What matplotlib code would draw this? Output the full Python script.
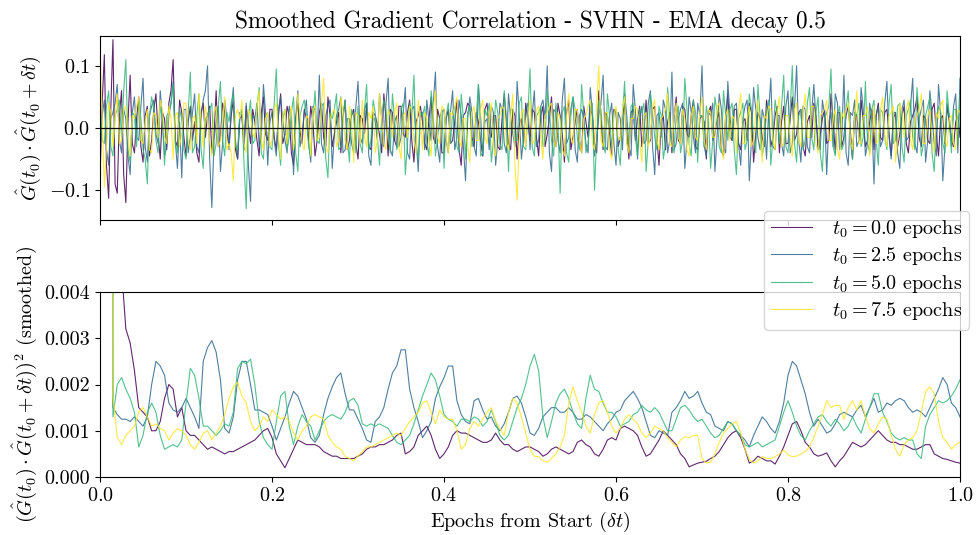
import numpy as np
import matplotlib
matplotlib.use('Agg')
import matplotlib.pyplot as plt

plt.rcParams['font.family'] = 'serif'
plt.rcParams['font.serif'] = ['cmr10', 'DejaVu Serif']
plt.rcParams['mathtext.fontset'] = 'cm'
plt.rcParams['axes.formatter.use_mathtext'] = True
plt.rcParams['axes.unicode_minus'] = True

nan = float('nan')

labels = ['$t_0 = 0.0$ epochs', '$t_0 = 2.5$ epochs', '$t_0 = 5.0$ epochs', '$t_0 = 7.5$ epochs']
colors = ['#440154', '#31688e', '#35b779', '#fde725']

# top panel: raw correlation, units of 1e-3, evenly spaced over 0..1 epochs
corr_t0_00 = [
    -80, 40, 118, -60, -113, 30, 142, -90, -105, 20, 60, -75, -120, 10, 85, -25, -40, 15, 50, -30,
    -55, 20, 35, -45, -20, 30, 55, -10, -50, 25, 15, -35, 40, 60, 110, -20, -30, 45, 25, -15,
    -45, 10, 35, -20, 10, -40, -55, 25, 40, -15, 20, 35, -40, -10, 60, -30, -15, 40, 25, -5,
    -30, 20, 45, -35, -50, 15, 20, -25, 35, 5, -25, 30, 10, -20, -45, 25, 50, -10, -20, 30,
    30, -15, -35, 20, 55, -25, -10, 35, 20, -40, -60, 15, 40, -5, -25, 30, 15, -20, 35, 10,
    -45, -20, 25, 40, -15, -30, 50, 20, -30, -10, 10, 25, -40, 15, 45, -35, -20, 20, 30, -25,
    -50, 20, 15, -10, 40, -30, -35, 25, 20, 5, -10, -40, 55, 15, -45, 30, 25, -20, -30, 35,
    35, -10, -15, 25, 45, -20, -55, 10, 20, 35, 10, -25, -35, 15, 50, -15, -25, 30, 15, -40,
    -40, 15, 30, -25, -20, 10, 45, -35, -60, 20, 25, 40, 35, -15, -30, 25, 10, -20, -45, 30,
    40, -5, -15, 20, 20, -30, -35, 15, 55, 10, -25, -35, 30, 20, -50, 5, 15, -25, 40, 10,
    -20, 30, 25, -15, -45, 20, 35, -30, -10, 15, 50, -20, -30, 40, 20, -10, -55, 25, 45, -35,
    -15, 10, 30, -20, -40, 35, 10, -15, 35, 20, -25, -40, 60, 15, -35, 25, 20, -10, -45, 30,
    25, -30, -15, 20, 40, -10, -50, 25, 30, -20, 15, 35, -30, -5, 45, -25, -20, 30, 35, -15,
    -60, 10, 20, -35, 10, 25, -40, 15, 50, -20, -25, 35, 30, -10, -15, 20, 45, -30, -35, 15,
    20, 10, -50, 25, 35, -20, -10, 15, 25, -35, -45, 20, 55, -15, -20, 30, 30, -25, -35, 10,
    15, -20, 40, 25, -55, -10, 25, 15, -15, -30, 45, 20, -30, -15, 20, 35, -40, 10, 35, -25,
    -25, 15, 50, -20, -10, 25, 30, -30, -45, 10, 20, -15, 40, 20, -35, -10, 15, 30, -25, -20,
    55, 10, -40, 25, 25, -30, -15, 20, 35, -5, -50, 25, 20, -15, 45, 10, -30, -20, 10, 30,
    -35, 20, 40, -15, -20, 25, 30, -10, -45, 15, 25, -30, -10, 20, 35, -25, -40, 10, 20, 30,
    50, -15, -30, 20, 15, -20, -25, 30, 40, -10, -45, 15, 20, -25, 35, 10, -20, -30, 10, 20,
    -15]
corr_t0_25 = [
    -30, 20, 45, -35, -60, 15, 25, 40, 70, -20, -40, 30, 15, -45, -75, 25, 50, -15, -20, 35,
    80, -30, -55, 20, 35, 45, -10, -25, 60, 15, -45, -30, 20, 40, 75, -20, -65, 10, -80, 30,
    30, -40, -15, 25, 55, -30, -40, 20, 45, 60, 100, -50, -128, -20, 10, 35, -70, -25, 45, 15,
    -35, 30, 65, -20, -50, 25, 20, -35, 40, -60, -118, 20, 15, 40, -30, -15, 70, 25, -60, 10,
    25, -20, -45, 30, 50, 10, -20, -40, 35, 20, -75, 15, 60, -30, -10, 25, 45, -20, -55, 35,
    30, -15, 85, -25, -40, 20, 35, 45, -65, -10, 20, 30, 50, -40, -35, 15, 15, -25, -40, 35,
    75, -15, -25, 30, 40, -45, -60, 20, 10, -20, 55, 15, -30, 40, 80, -35, -45, 10, 20, -30,
    -15, 25, 65, -40, -50, 30, 35, -15, -70, 20, 25, -35, 45, 10, -20, 40, 90, -30, -55, 25,
    30, -20, -40, 25, 60, -35, -15, 45, 20, -30, -85, 15, 50, 25, -30, -45, 70, 20, -45, 10,
    15, -35, 35, 25, -60, -20, 40, 30, -25, -40, 55, 15, -10, -30, 75, 20, -50, -15, 30, 40,
    -35, 20, 60, -30, -20, 35, 45, 15, 100, -40, -70, 30, 25, -20, -40, 45, 80, -25, -15, 30,
    50, -35, -55, 20, 30, 15, -25, -40, 65, 25, -45, -20, 20, 40, 85, -30, -35, 20, 40, -25,
    -60, 25, 15, -35, 55, 20, -30, -45, 70, 30, -50, 15, 35, -25, -20, 40, 60, -30, -75, 20,
    25, -15, 45, 30, -40, -20, 90, -35, -25, 15, 30, 40, -65, -20, 50, 25, -15, -40, 40, 20,
    100, -30, -45, 25, 20, 40, -70, -15, 55, 30, -30, -40, 75, 20, -20, 35, 40, -25, -60, 15,
    35, 45, -85, -20, 65, 30, -15, -35, 30, 15, -50, 25, 80, -30, -35, 20, 20, -25, -45, 35,
    60, -40, -25, 30, 100, -20, -55, 35, 30, -30, -40, 25, 70, 15, -20, -35, 45, 20, -75, 10,
    25, -30, 55, 40, -35, -15, 85, -40, -60, 25, 20, 45, -30, -20, 65, 30, -45, -25, 40, 15,
    -90, 20, 35, -30, -20, 40, 75, -15, -50, 25, 25, -40, -65, 30, 45, -20, -15, 35, 80, -25,
    -40, 15, 30, 45, -55, -20, 60, 20, -25, -45, 70, 25, -85, -30, 40, 20, -30, 35, 55, -40,
    80]
corr_t0_50 = [
    40, -20, -25, 35, 60, -30, -45, 20, 30, 45, -15, 60, 110, -35, -55, 25, 20, -30, 45, 15,
    -35, -50, -90, 20, 50, 30, -20, -40, 35, 15, -60, 20, 25, 40, 70, -25, -40, 30, 15, -35,
    -50, 25, 90, -40, -30, 20, 55, -35, -65, 15, 20, 30, 40, -45, -25, 35, 75, -20, -45, 25,
    10, 40, 55, -30, -35, 20, 30, -60, -130, 15, 45, -25, -20, 35, 65, -40, -50, 20, 25, -30,
    -35, 40, 95, -25, -60, 15, 30, -35, -15, 25, 50, -40, -70, 20, 35, 45, 20, -30, -45, 15,
    60, -20, -25, 35, 40, -50, -80, 25, 15, 30, 55, -35, -30, 20, 45, -15, -55, 30, 20, -40,
    35, -25, -40, 30, 70, -35, -20, 45, 25, -15, -60, 20, 45, 30, -10, -40, 55, 15, -35, -20,
    30, 40, -75, -25, 40, 20, 85, -30, -50, 25, 20, 35, -25, -45, 60, 20, -45, -15, 15, 30,
    -65, 20, 40, -25, 25, 35, -30, -40, 55, 15, -50, 25, 35, -30, -15, 20, 70, -45, -40, 30,
    20, 40, -55, -20, 45, 25, -25, -35, 60, 15, -70, 30, 30, -20, -20, 40, 50, -30, -35, 25,
    95, -30, -45, 20, 25, 35, -30, -20, 60, 30, -20, -45, 40, 10, -105, 25, 35, -40, -55, 20,
    50, 30, -15, -35, 70, 20, -40, -25, 20, 40, -100, -15, 45, 30, -25, -40, 55, 20, -35, 25,
    30, -35, -60, 20, 75, -25, -20, 35, 40, -15, -45, 30, 25, 40, -70, -20, 55, 25, -15, -35,
    35, 20, -50, -25, 65, 15, -30, -40, 20, 35, -40, -20, 80, 30, -25, -45, 45, 25, -55, 20,
    20, -30, 35, 15, -65, -20, 50, 25, -30, -40, 60, 20, -20, 30, 40, -35, -75, 15, 25, 40,
    -35, -20, 55, 30, -15, -40, 70, 20, -45, -25, 30, 45, -60, -15, 45, 20, -25, 35, 85, -30,
    -40, 30, 100, -25, -55, 20, 30, -35, -20, 40, 65, -15, -35, 25, 50, -40, -70, 15, 25, 35,
    95, -30, -45, 20, 35, -35, -25, 30, 60, -20, -50, 25, 20, 40, -30, -15, 75, -25, -40, 30,
    45, -20, -60, 30, 25, -15, -35, 40, 70, -25, -20, 35, 40, -30, -55, 20, 30, 45, -15, -35,
    65, 20, -45, -25, 20, 35, 50, -40, -70, 15, 35, 25, -25, -40, 60, 20, -40, 30, 30, -25,
    55]
corr_t0_75 = [
    130, 20, -95, -30, 40, 25, -30, 15, 55, -25, -20, 30, 35, -15, -45, 20, 15, 35, 50, -20,
    -25, 10, 30, -35, -40, 25, 20, -15, 45, 30, -15, -25, 35, 15, -50, 20, 25, -30, -10, 40,
    40, -20, -35, 15, 20, -25, 55, 10, -30, 35, 15, -20, -45, 25, 35, -30, -20, 15, 50, -35,
    -25, -40, -85, 20, 30, 15, 45, -25, -40, 30, 20, -10, -15, 35, 60, -20, -35, 15, 25, -30,
    -20, 30, 40, -15, -50, 20, 30, -25, 15, 35, -35, -10, 55, 20, -25, -35, 20, 15, -45, 30,
    35, -20, -15, 40, 80, -30, -40, 15, 25, 30, -30, -20, 50, 25, -20, -35, 35, 10, -55, 25,
    20, -25, 45, -15, -30, 25, 15, 35, -40, -20, 55, 15, -25, -35, 30, 20, -15, 25, 40, -30,
    -50, 20, 25, -15, 35, 30, -20, -40, 45, 15, -35, 25, 15, -20, -45, 30, 60, -15, -25, 35,
    30, -15, -40, 25, 20, 35, 50, -20, -30, 15, 15, -30, -55, 25, 35, -20, -20, 30, 45, -15,
    -25, 20, 40, -30, -45, 15, 20, 35, 30, -25, -35, 20, 55, -60, -116, -20, 25, 30, -30, 15,
    45, -25, -20, 30, 35, -15, -50, 20, 25, 35, 40, -20, -30, 25, 15, -35, -45, 20, 55, -15,
    -25, 30, 30, -20, -40, 15, 20, 35, 45, -25, -35, 40, 100, -20, -30, 25, 25, -35, -50, 20,
    35, -15, -20, 30, 50, -25, -40, 15, 15, 35, 30, -20, -55, 20, 25, -30, -15, 35, 45, -20,
    -35, 15, 20, 30, 55, -25, -30, 20, 40, -15, -25, 30, 15, -35, -45, 20, 35, -15, -20, 25,
    50, -20, -35, 30, 25, -15, -15, 35, 40, -25, -50, 20, 30, -20, 20, 15, -40, 30, 55, -25,
    -25, 15, 35, -30, -20, 25, 45, -15, -55, 20, 15, 35, 30, -20, -35, 25, 50, -30, -25, 20,
    20, -15, -45, 30, 40, -20, -30, 25, 55, -15, -15, 35, 35, -25, -40, 20, 25, 30, 45, -20,
    -20, 15, 30, -35, -50, 25, 15, 30, 40, -20, -35, 15, 60, -25, -25, 20, 20, 35, -45, -15,
    35, -25, -20, 30, 50, -15, -30, 20, 25, 35, -55, -20, 40, 25, -15, 30, 45, -20, -35, 15,
    20, 30, 55, -25, -25, 20, 30, -15, -40, 25, 15, 35, 45, -20, -30, 15, 20, -25, -35, 30,
    25]

# bottom panel: smoothed squared correlation, units of 1e-4, every 0.005 epochs
sq_t0_00 = [
    1000, 400, 200, 110, 70, 45, 32, 29, 23, 15, 14, 13, 10, 10, 12, 17, 20, 19, 13, 15,
    10, 9, 9, 8, 7, 6, 6.5, 6, 5.5, 5, 5.5, 5.5, 6, 6.5, 7, 7.5, 8, 9, 10, 10.5,
    8.5, 5, 3.5, 2, 4, 6, 8, 7.5, 7, 7, 7, 6.5, 5.5, 5, 4.5, 4.5, 4, 4, 4, 4,
    4.5, 5, 6, 6.5, 6.5, 7, 7, 7.5, 8, 9, 9.5, 5, 5.5, 6.5, 9, 10, 11, 9, 6, 4,
    5, 6.5, 9, 10, 9.5, 9.5, 9, 8.5, 8, 7.5, 7.5, 8, 9.5, 8, 7, 7, 6, 5.5, 6, 6.5,
    6.5, 6, 5.5, 4.5, 5, 6, 6.5, 6, 5.5, 5, 5.5, 7.5, 8, 7, 6.5, 5, 4.5, 6, 8, 8.5,
    8, 10.5, 11, 10.5, 10, 9, 6.5, 4.5, 5, 6.5, 8, 10, 9, 8, 7, 5, 4, 2.2, 2.6, 3,
    3.2, 3.4, 4, 4.5, 5.5, 7, 8.5, 9.5, 10, 8.5, 6, 3, 3.5, 4.5, 4, 3.5, 3.5, 2.8, 4.5, 6.5,
    9, 11.5, 12, 10, 7.5, 6.5, 5, 4.5, 4.8, 5.2, 3.5, 2.2, 3.5, 4.5, 6, 7.5, 7, 6.5, 7, 8,
    9, 10, 9, 8, 7.5, 7.5, 7, 7, 6.5, 6, 6, 6.5, 7, 7, 5, 4.5, 4, 3.8, 3.5, 3.2,
    3]
sq_t0_25 = [
    nan, nan, 1000, 15, 13.5, 12.5, 12.5, 12, 13, 12, 11, 13, 20, 25, 24, 22, 16, 14.5, 14, 15,
    17, 15, 13, 10.5, 25, 28, 29.5, 27, 21, 10.5, 9.5, 13, 21, 25, 25, 20, 14.5, 14.5, 14, 13.5,
    11, 8, 10.5, 13, 16, 18.5, 17.5, 15, 12.5, 8.5, 7.5, 9, 13.5, 17, 19.5, 21.5, 22.5, 18, 14.5, 14.5,
    12.5, 10.5, 8, 7.5, 12, 13, 15, 19, 22.5, 24, 27.5, 27.5, 19, 15, 12, 8.5, 10, 12, 17, 19.5,
    21.5, 24, 24, 16.5, 13.5, 12, 11.5, 16.5, 17, 14.5, 12.5, 13, 11, 10, 11.5, 14, 17, 17.5, 16, 13,
    9.5, 9, 10.5, 13, 14, 15, 15, 14, 14, 15, 14, 12.5, 12.5, 13.5, 13, 12, 11, 10, 11.5, 12.5,
    14, 14.5, 16.5, 17.5, 18.5, 17, 15, 12, 9, 8.5, 10, 9.5, 9, 14, 15, 16.5, 18.5, 17, 17.5, 18.5,
    16, 14, 13.5, 11, 10.5, 10, 12, 11.5, 10, 9, 8, 6.5, 9, 11, 13, 12, 10.5, 9.5, 12, 16,
    22, 25, 24, 21, 18, 14, 11, 12.5, 11, 9.5, 10, 11.5, 13.5, 14, 13.5, 13, 14.5, 15.5, 13, 15,
    17, 14, 14.5, 16, 15.5, 16.5, 17, 16.5, 15, 14, 14.5, 14, 13, 15, 17, 19, 21.5, 20, 16, 15,
    13]
sq_t0_50 = [
    nan, nan, 1000, 13, 20, 21.5, 19, 17, 14, 6.5, 9, 14, 16, 14, 9, 6, 6.5, 7, 6.5, 8,
    16, 23.5, 22, 17, 11, 11, 10, 9, 10, 11.5, 11, 14, 23.5, 25, 24.5, 25.5, 20, 12, 8.5, 7,
    6, 12, 17.5, 18.5, 11, 7, 11, 13.5, 12, 11, 8, 10, 12, 13, 13.5, 13, 12.5, 14, 16.5, 17,
    15.5, 11.5, 11, 11.5, 11, 11.5, 11, 10.5, 9, 7.5, 7, 8, 9, 11.5, 14.5, 17.5, 20, 22.5, 21, 17.5,
    13.5, 12.5, 12, 11, 12.5, 12.5, 12, 13, 12.5, 11, 12, 14.5, 12, 9, 8, 9, 12, 15, 17, 20,
    24, 26.5, 23, 13, 8.5, 12, 16, 18, 19, 17, 14, 11.5, 10.5, 17, 22, 19, 18.5, 16, 14, 14,
    13, 11, 11.5, 12, 13.5, 14, 15.5, 14.5, 14, 15, 14, 12, 10, 10, 12.5, 15, 15.5, 14.5, 13, 12,
    12.5, 11, 9.5, 8.5, 9, 10.5, 12, 11.5, 10, 9, 7, 6.5, 7, 7.5, 6.5, 7, 7.5, 8, 11, 14,
    16.5, 14, 11, 9, 8, 10, 11.5, 13, 13.5, 12, 11, 12.5, 11.5, 10, 11, 13, 11, 9.5, 12.5, 15,
    18, 18, 14, 12, 9.5, 8.5, 8, 8.5, 8, 8, 5, 4, 11, 13.5, 15, 16.5, 16, 16.5, 17.5, 19,
    21]
sq_t0_75 = [
    nan, nan, 1000, 17.5, 8.5, 7, 9, 10, 11, 14, 15, 13, 11, 11.5, 10.5, 10, 8, 9.5, 10.5, 10,
    9, 7, 6, 7.5, 9.5, 10, 8, 9.5, 11, 13.5, 17, 19.5, 20.5, 17.5, 16, 12, 10, 11, 13, 12,
    14.5, 13.5, 12.5, 13, 12, 9.5, 8, 10, 11, 13, 13.5, 13, 12.5, 9, 7.5, 6.5, 6, 4.5, 4, 3.5,
    4.5, 5.5, 6.5, 6.5, 7, 7.5, 8, 8.5, 9, 9.5, 9, 10.5, 12, 13, 14, 16, 16.5, 14, 11.5, 14.5,
    13, 12.5, 12.5, 10, 6, 7, 10.5, 12, 11, 12.5, 14, 15, 12, 10.5, 9, 14, 17, 16, 13, 9.5,
    6, 4.5, 4.4, 3.5, 3.2, 4, 5, 6.5, 9, 16, 19.5, 16.5, 14, 11, 9.5, 13.5, 16, 16.5, 14, 11,
    9.5, 10.5, 12.5, 13.5, 12.5, 11.5, 9.5, 8.5, 9.5, 11, 10.5, 10, 8.5, 7.5, 6.5, 8, 8.7, 8.5, 9, 9,
    4, 3, 3.2, 5, 7.5, 9.5, 10.5, 11.5, 12, 9.5, 6, 3.8, 3, 3.5, 4.4, 4, 4, 4.4, 5, 5.8,
    4.8, 4.4, 4.5, 5, 5.5, 6.5, 8.5, 11, 13.5, 16.5, 15, 15.5, 15.5, 12.5, 15, 16.5, 14.5, 16.5, 13, 10.5,
    9.5, 11.5, 13, 12.5, 9, 6, 4.5, 7, 8, 8.5, 10, 14, 18.5, 19.5, 18, 12, 8.5, 7.5, 6, 7,
    7.5]

corr = [corr_t0_00, corr_t0_25, corr_t0_50, corr_t0_75]
smoothed = [sq_t0_00, sq_t0_25, sq_t0_50, sq_t0_75]

fig = plt.figure(figsize=(9.77, 5.35), dpi=100)
ax1 = fig.add_axes([0.1024, 0.5888, 0.8802, 0.3439])
ax2 = fig.add_axes([0.1024, 0.1084, 0.8802, 0.3458], sharex=ax1)

for vals, c, lab in zip(corr, colors, labels):
    v = np.array(vals) * 1e-3
    ax1.plot(np.linspace(0, 1, len(v)), v, color=c, lw=0.8, alpha=0.85, label=lab)
ax1.axhline(0, color='k', lw=0.9)
ax1.set_ylim(-0.148, 0.148)
ax1.set_yticks([-0.1, 0.0, 0.1])
ax1.set_ylabel(r'$\hat{G}(t_0)\cdot\hat{G}(t_0+\delta t)$', fontsize=14.5)
ax1.set_title('Smoothed Gradient Correlation - SVHN - EMA decay 0.5', fontsize=16.8)
ax1.tick_params(labelbottom=False, labelsize=14.5)

for vals, c in zip(smoothed, colors):
    v = np.array(vals) * 1e-4
    ax2.plot(np.linspace(0, 1, len(v)), v, color=c, lw=0.8, alpha=0.85)
ax2.set_xlim(0, 1)
ax2.set_ylim(0, 0.004)
ax2.set_yticks([0.0, 0.001, 0.002, 0.003, 0.004])
ax2.set_yticklabels(['0.000', '0.001', '0.002', '0.003', '0.004'])
ax2.set_ylabel(r'$(\hat{G}(t_0)\cdot\hat{G}(t_0+\delta t))^2$ (smoothed)', fontsize=14.5)
ax2.set_xlabel(r'Epochs from Start ($\delta t$)', fontsize=14.5)
ax2.tick_params(labelsize=14.5)

fig.legend(loc='center right', bbox_to_anchor=(0.9918, 0.4953), borderaxespad=0,
           fontsize=14.5, framealpha=0.8, labelspacing=0.28, handletextpad=1.0,
           borderpad=0.35)

fig.savefig('out.png', dpi=100)
